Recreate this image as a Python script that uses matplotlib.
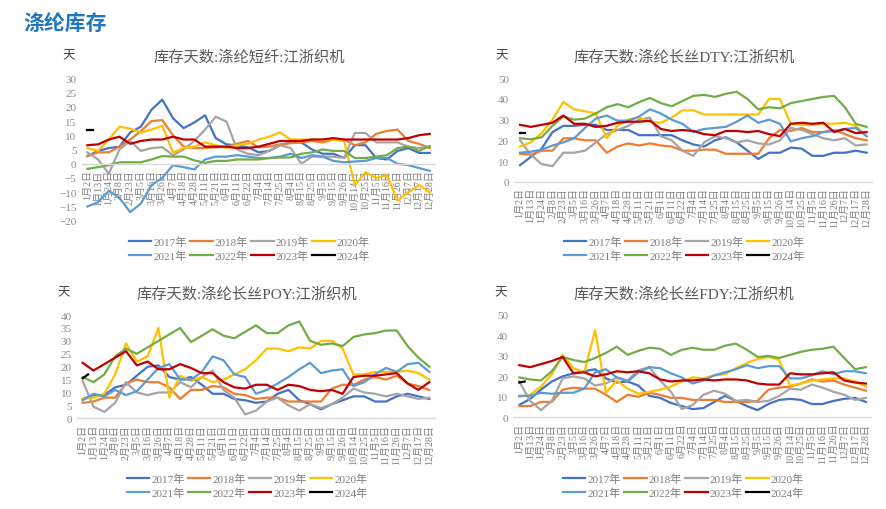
import numpy as np
import matplotlib
matplotlib.use('Agg')
import matplotlib.pyplot as plt

plt.rcParams['font.family'] = ['Liberation Serif', 'Noto Sans CJK SC', 'DejaVu Sans']

dates = ['1月2日', '1月13日', '1月24日', '2月8日', '2月23日', '3月5日', '3月16日', '3月26日',
         '4月7日', '4月18日', '4月28日', '5月11日', '5月21日', '6月1日', '6月11日', '6月22日',
         '7月4日', '7月14日', '7月25日', '8月4日', '8月15日', '8月25日', '9月5日', '9月15日',
         '9月26日', '10月14日', '10月25日', '11月5日', '11月16日', '11月26日', '12月7日',
         '12月17日', '12月28日']
years = ['2017年', '2018年', '2019年', '2020年', '2021年', '2022年', '2023年', '2024年']
colors = ['#4472C4', '#ED7D31', '#A5A5A5', '#FFC000', '#5B9BD5', '#70AD47', '#C00000', '#000000']

# 涤纶短纤
sf17 = [2.7, 4.5, 5.5, 6, 11, 13, 19, 22.5, 16, 12.5, 14.5, 17, 9, 6.8, 6.5, 5.8, 4.0, 4.5, 6.5, 7.5, 7.5, 5, 3.5, 3.5, 2, 6.5, 6.5, 2, 1.5, 4.5, 5.5, 3.8, 3.8]
sf18 = [2.7, 4, 4, 6, 8.5, 11.5, 15, 15.3, 10, 6, 5.5, 5.5, 5.8, 6, 7, 8, 5.8, 6, 6.8, 7.2, 7.5, 8, 7.5, 8.5, 8.5, 6.5, 7.5, 10.5, 11.5, 12, 8, 7, 5.5]
sf19 = [4, 1.5, -3.5, 5, 8, 4.5, 5.5, 5.8, 3, 5, 8, 12, 16.5, 14.8, 5, 3.5, 3, 4.5, 6.5, 5.5, 0, 2.5, 2.5, 2.5, 2, 10.8, 10.8, 7.5, 7.5, 7.5, 6, 5.5, 6]
sf20 = [5.5, 4.5, 8.5, 13, 12.3, 11, 12, 13.3, 4, 5.5, 6, 7.5, 6.5, 5.5, 6.5, 7, 8.5, 9.5, 11, 8.5, 8.5, 8.5, 8.5, 8.5, 8, -7.5, -3, -5, -4, -13, -10, -7.5, -10]
sf21 = [-15, -13.5, -9.5, -12, -17, -14, -7.5, -5, -0.5, -1.2, -2, 1.5, 2.5, 2.5, 3, 2.5, 2, 2, 2.5, 3.5, 2, 3, 2.5, 1, 0.5, 0.8, 1, 2, 2, 0, -0.5, -1.5, -2.5]
sf22 = [-1.8, -1.2, -0.5, 0.5, 0.5, 0.5, 1.5, 2.7, 2.5, 2.5, 1.2, 0.3, 1, 1, 1.5, 1.5, 1.5, 2, 2.2, 2.2, 3.5, 4, 5, 4.5, 4.5, 2, 2, 2.5, 3, 5.5, 6, 4.5, 6.2]
sf23 = [6.5, 6.8, 8.5, 9.5, 7, 8, 8.5, 8.5, 9.5, 8.5, 8.5, 6, 6, 6, 5.5, 5.5, 6, 7, 8, 8, 8, 8.5, 8.5, 9, 8.5, 8.5, 8.5, 8.5, 8.5, 8.5, 9, 10, 10.5]
sf24 = [12, 12]

# 涤纶长丝DTY
dty17 = [8, 12, 16, 24, 27, 27, 27.5, 27.5, 25, 25, 25, 22.5, 22.5, 22.5, 22.5, 20, 18, 17, 20, 21.5, 19, 15, 11, 14, 14, 16.5, 16, 12.5, 12.5, 14, 14, 15, 14]
dty18 = [13.5, 13, 15, 15, 21, 21, 20, 20, 14, 17, 18.5, 17.5, 18.5, 17.5, 17, 15, 15, 15.5, 15.5, 13.5, 13.5, 13.5, 13.5, 21, 25, 24.5, 26, 24, 24, 25, 23, 21, 20]
dty19 = [20, 13, 8.5, 7.5, 14, 14, 15, 19, 23, 25, 27, 30, 31, 22, 20, 15, 12.5, 19, 22, 21, 19, 20, 18.5, 18, 20, 26, 25, 23, 21, 20, 21, 17.5, 18]
dty20 = [17, 19, 23.5, 30, 38.5, 35, 34, 33, 21, 27, 30, 31, 29, 28.5, 31, 34.5, 34.5, 32.5, 32.5, 32.5, 32.5, 32.5, 32.5, 40, 40, 28, 27.5, 27.5, 28, 28, 28.5, 27, 22]
dty21 = [14, 14.5, 15.5, 17.5, 19, 21, 26, 30.5, 32, 29.5, 29.5, 31.5, 35, 33, 30, 28, 24, 25.5, 26, 26.5, 29, 32, 28.5, 30, 28, 19.5, 21, 22, 24, 24.5, 25.5, 26, 22]
dty22 = [21, 20.5, 21.5, 27, 31.5, 30, 30.5, 33, 36, 37.5, 36, 38.5, 40.5, 38, 36.5, 39, 41.5, 42, 41, 42.5, 43.5, 40, 35, 36, 35.5, 38, 39, 40, 41, 41.5, 36, 28, 26.5]
dty23 = [27.5, 26.5, 27.5, 28.5, 32, 28, 28, 26.5, 27, 28.5, 29, 29, 29.5, 25.5, 24.5, 25, 24.5, 23, 22.5, 24.5, 24.5, 24, 24.5, 23, 22, 28, 28.5, 28, 28.5, 24, 25.5, 23.5, 24]
dty24 = [23.5, 23.5]

# 涤纶长丝POY
poy17 = [7.5, 9, 9, 12, 13, 16.5, 20, 20.5, 16, 15, 16, 13, 9.5, 9.5, 7.5, 7, 6, 6.5, 9.5, 11, 7, 5.5, 3.5, 5.5, 7, 8.5, 8.5, 6.5, 6.5, 8.5, 9.5, 8.5, 7.5]
poy18 = [6, 6.5, 8, 8, 13.5, 15, 14, 14, 12, 7.5, 11, 11, 12.5, 12, 9.5, 9, 7.5, 8, 8, 6.5, 6.5, 6.5, 6.5, 11.5, 13, 13, 15, 16, 15, 16.5, 13.5, 12.5, 11]
poy19 = [14.5, 4.5, 2.5, 6, 14, 10, 9, 10, 10, 14, 12, 16, 18.5, 11, 8, 1.5, 3, 6.5, 8, 5, 3, 5.5, 4, 5.5, 8, 11.5, 10, 9.5, 8.5, 9.5, 8.5, 7.5, 8]
poy20 = [7.5, 8, 9.5, 17, 29, 22, 24, 35, 8, 16.5, 14.5, 16, 14, 15, 17, 19, 22.5, 27, 27, 26, 27.5, 27, 30, 30, 27, 17, 17, 18, 18, 18, 18.5, 17.5, 15]
poy21 = [7, 9.5, 8.5, 11, 9, 10.5, 15, 19.5, 21, 15, 15, 18, 24, 22.5, 17, 16, 9.5, 11, 13.5, 16, 19, 21.5, 17.5, 18.5, 19, 12.5, 14, 17, 19.5, 18, 21, 21.5, 18]
poy22 = [16, 14, 17, 24, 27, 25, 27.5, 30, 32.5, 35, 29.5, 32, 34.5, 32, 31, 33.5, 36, 33, 33, 36, 37.5, 30, 28.5, 29, 28, 31.5, 32.5, 33, 34, 34, 28, 23.5, 20]
poy23 = [21.5, 18.5, 21, 23.5, 26, 20.5, 22, 19, 19, 21, 19.5, 17.5, 17.5, 14, 12, 11.5, 13, 13, 11, 13, 12.5, 11, 10.5, 11, 9.5, 16, 16.5, 16.5, 17, 17.5, 13.5, 11, 14]
poy24 = [15.5, 17]

# 涤纶长丝FDY
fdy17 = [6, 9, 13.5, 17.5, 20, 21.5, 22.5, 23.5, 19, 17, 17.5, 15.5, 10.5, 9.5, 7, 5.5, 4, 4.5, 7.5, 10.5, 8, 5.5, 3.5, 6.5, 8.5, 9, 8.5, 6.5, 6.5, 8, 9, 9.5, 7.5]
fdy18 = [5.5, 5.5, 7.5, 7.5, 13.5, 14.5, 14, 14, 11, 7.5, 11, 10, 12, 11, 9.5, 9.5, 8.5, 8.5, 8.5, 7.5, 7.5, 7.5, 8, 13.5, 14.5, 15, 16.5, 18.5, 17.5, 18, 16, 14.5, 13]
fdy19 = [17.5, 8, 3.5, 8, 19, 20, 19, 15.5, 16.5, 19.5, 18, 23, 24.5, 18, 12.5, 4, 6, 11, 13, 11.5, 8, 8.5, 7.5, 8, 10.5, 14, 13.5, 16, 14.5, 12.5, 11, 8.5, 9.5]
fdy20 = [10, 11, 15, 21, 30.5, 24, 22, 42.5, 12, 18, 14, 11.5, 12.5, 13.5, 15, 17.5, 19.5, 19, 20.5, 21, 24, 26.5, 28.5, 29.5, 28, 15.5, 16.5, 18, 18.5, 19, 19, 17.5, 15]
fdy21 = [10.5, 10.5, 12, 11.5, 12, 12, 14, 22, 23.5, 19.5, 17.5, 22, 24.5, 24, 21.5, 19.5, 16.5, 18, 20.5, 22, 23.5, 25.5, 24, 25, 25, 19, 19, 20.5, 22.5, 21, 22.5, 22.5, 21.5]
fdy22 = [19.5, 18.5, 18, 22.5, 29.5, 28, 27, 29, 31.5, 34.5, 30.5, 32.5, 34, 33.5, 30.5, 33, 34, 33, 33, 35, 36, 33, 29.5, 30, 29, 30.5, 32, 33, 33.5, 34.5, 29, 23.5, 24.5]
fdy23 = [25.5, 24.5, 26, 27.5, 29.5, 21.5, 22, 20, 21, 22.5, 22, 22.5, 21.5, 18.5, 17.5, 18, 18, 18.5, 18, 18.5, 18.5, 18, 16.5, 16, 16, 21.5, 21, 21, 21.5, 22, 18, 17, 16.5]
fdy24 = [17, 17.5]

panels = [
    ('库存天数:涤纶短纤:江浙织机', [sf17, sf18, sf19, sf20, sf21, sf22, sf23, sf24],
     (-20, 30, 5), [0.0926, 0.5653, 0.3984, 0.2792]),
    ('库存天数:涤纶长丝DTY:江浙织机', [dty17, dty18, dty19, dty20, dty21, dty22, dty23, dty24],
     (0, 50, 10), [0.5808, 0.6418, 0.4034, 0.2027]),
    ('库存天数:涤纶长丝POY:江浙织机', [poy17, poy18, poy19, poy20, poy21, poy22, poy23, poy24],
     (0, 40, 5), [0.0872, 0.1778, 0.4034, 0.2025]),
    ('库存天数:涤纶长丝FDY:江浙织机', [fdy17, fdy18, fdy19, fdy20, fdy21, fdy22, fdy23, fdy24],
     (0, 50, 10), [0.5800, 0.1798, 0.4034, 0.2006]),
]

fig = plt.figure(figsize=(8.86, 5.10), dpi=100)
fig.text(0.026, 0.955, '涤纶库存', color='#1F77C4', fontsize=15, fontweight='bold',
         family=['Noto Sans CJK SC'], va='center', ha='left')

x = np.arange(len(dates))
for title, series, (ylo, yhi, ystep), rect in panels:
    ax = fig.add_axes(rect)
    for s in ['top', 'right', 'left']:
        ax.spines[s].set_visible(False)
    ax.spines['bottom'].set_position(('data', 0))
    ax.spines['bottom'].set_color('#d9d9d9')
    ax.spines['bottom'].set_linewidth(1.0)
    ax.set_facecolor('none')

    handles = []
    for name, vals, c in zip(years, series, colors):
        xs = x[:len(vals)] if len(vals) == len(dates) else np.arange(len(vals)) * 0.5  # 2024: weekly points
        h, = ax.plot(xs, vals, color=c, lw=1.6, label=name, solid_joinstyle='round')
        handles.append(h)
    ax.set_xlim(-0.5, len(dates) - 0.5)
    ax.set_ylim(ylo, yhi)
    ax.set_yticks(np.arange(ylo, yhi + 0.1, ystep))
    ax.set_xticks(x)
    ax.set_xticklabels(dates, rotation=90, fontsize=7.2, color='#7f7f7f')
    ax.tick_params(axis='y', length=0, labelsize=8, labelcolor='#8c8c8c', pad=4)
    ax.tick_params(axis='x', length=0, pad=4)

    x0, y0, w, hgt = rect
    cx = x0 + w / 2
    fig.text(cx - 0.01, y0 + hgt + 0.043, title, ha='center', va='center', fontsize=11, color='#595959')
    fig.text(x0 - 0.015, y0 + hgt + 0.045, '天', ha='center', va='center', fontsize=9, color='#404040')

    order = [0, 4, 1, 5, 2, 6, 3, 7]
    leg_y = 0.51 if y0 > 0.5 else 0.046
    fig.legend([handles[i] for i in order], [years[i] for i in order], ncol=4,
               loc='center', bbox_to_anchor=(cx - 0.01, leg_y), frameon=False,
               fontsize=8, handlelength=2.0, handletextpad=0.2, columnspacing=0.3,
               labelspacing=0.35, labelcolor='#7f7f7f')

fig.savefig('out.png', dpi=100)
